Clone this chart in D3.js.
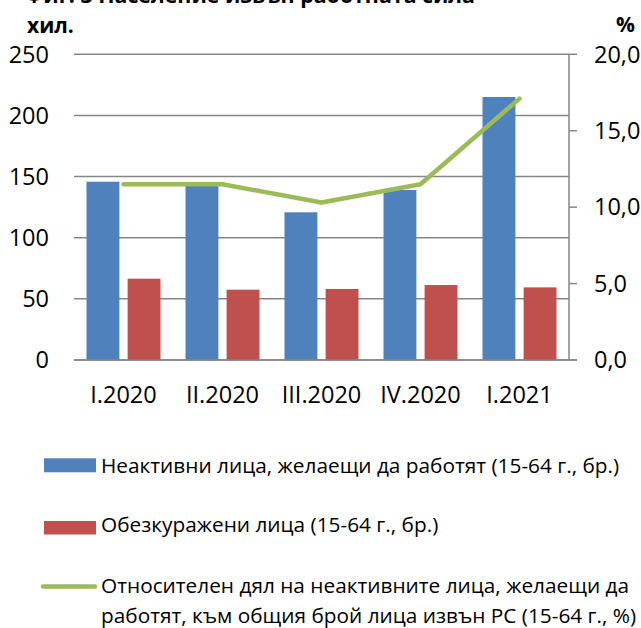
<!DOCTYPE html>
<html>
<head>
<meta charset="utf-8">
<script src="https://cdn.jsdelivr.net/npm/d3@7"></script>
<style>
  html, body { margin: 0; padding: 0; background: #fff; }
  svg text { font-family: "Open Sans", "Noto Sans", sans-serif; fill: #000; }
</style>
</head>
<body>
<div id="chart"></div>
<script>
// values
var categories = ["I.2020", "II.2020", "III.2020", "IV.2020", "I.2021"];
var inactive = [145.8, 142.3, 120.8, 139.0, 215.1];      // хил.
var discouraged = [66.5, 57.5, 58.1, 61.3, 59.4];        // хил.
var shareInactive = [11.5, 11.5, 10.3, 11.5, 17.1];      // %
var leftTicks = [0, 50, 100, 150, 200, 250];
var rightTicks = [0, 5, 10, 15, 20];

var legendLabels = [
  "Неактивни лица, желаещи да работят (15-64 г., бр.)",
  "Обезкуражени лица (15-64 г., бр.)",
  ["Относителен дял на неактивните лица, желаещи да", "работят, към общия брой лица извън РС (15-64 г., %)"]
];

var W = 641, H = 628;
var plot = { left: 74, right: 569, top: 54.3, bottom: 360 };
var colors = { blue: "#4F81BD", red: "#C0504D", green: "#9BBB59", grid: "#868686" };

var svg = d3.select("#chart").append("svg").attr("width", W).attr("height", H);

// scales
var x0 = d3.scaleBand().domain(categories).range([plot.left, plot.right]);
var x1 = d3.scaleBand().domain(["inactive", "discouraged"])
  .range([12.5, x0.bandwidth() - 12.5]).paddingInner(0.2);
var yL = d3.scaleLinear().domain([0, 250]).range([plot.bottom, plot.top]);
var yR = d3.scaleLinear().domain([0, 20]).range([plot.bottom, plot.top]);

// title (cut off at the top edge, as in the original)
svg.append("text")
  .attr("x", 25).attr("y", 3)
  .attr("font-weight", "bold").attr("font-size", 22)
  .attr("textLength", 450).attr("lengthAdjust", "spacingAndGlyphs")
  .text("Фиг. 3 Население извън работната сила");

svg.append("text").attr("x", 27).attr("y", 33)
  .attr("font-weight", "bold").attr("font-size", 21).text("хил.");
svg.append("text").attr("x", 616).attr("y", 32)
  .attr("font-weight", "bold").attr("font-size", 21).text("%");

// gridlines
svg.append("g").selectAll("line").data(leftTicks).enter().append("line")
  .attr("x1", plot.left).attr("x2", plot.right)
  .attr("y1", function (d) { return yL(d); }).attr("y2", function (d) { return yL(d); })
  .attr("stroke", colors.grid).attr("stroke-width", 1.5);

// left axis labels
svg.append("g").selectAll("text").data(leftTicks).enter().append("text")
  .attr("x", 49).attr("y", function (d) { return yL(d); })
  .attr("dy", "0.35em").attr("text-anchor", "end").attr("font-size", 23.5)
  .text(function (d) { return d; });

// bars
var groups = svg.append("g").selectAll("g").data(categories).enter().append("g")
  .attr("transform", function (d) { return "translate(" + x0(d) + ",0)"; });

groups.append("rect")
  .attr("x", x1("inactive")).attr("width", x1.bandwidth())
  .attr("y", function (d, i) { return yL(inactive[i]); })
  .attr("height", function (d, i) { return yL(0) - yL(inactive[i]); })
  .attr("fill", colors.blue);

groups.append("rect")
  .attr("x", x1("discouraged")).attr("width", x1.bandwidth())
  .attr("y", function (d, i) { return yL(discouraged[i]); })
  .attr("height", function (d, i) { return yL(0) - yL(discouraged[i]); })
  .attr("fill", colors.red);

// baseline redrawn over bar bottoms
svg.append("line")
  .attr("x1", plot.left).attr("x2", plot.right + 8)
  .attr("y1", yL(0)).attr("y2", yL(0))
  .attr("stroke", colors.grid).attr("stroke-width", 1.5);

// right axis
var rightAxis = svg.append("g");
rightAxis.append("line")
  .attr("x1", plot.right).attr("x2", plot.right)
  .attr("y1", plot.top).attr("y2", plot.bottom)
  .attr("stroke", colors.grid).attr("stroke-width", 1.5);
rightAxis.selectAll("line.tick").data(rightTicks).enter().append("line")
  .attr("class", "tick")
  .attr("x1", plot.right).attr("x2", plot.right + 8)
  .attr("y1", function (d) { return yR(d); }).attr("y2", function (d) { return yR(d); })
  .attr("stroke", colors.grid).attr("stroke-width", 1.5);
rightAxis.selectAll("text").data(rightTicks).enter().append("text")
  .attr("x", 594).attr("y", function (d) { return yR(d); })
  .attr("dy", "0.35em").attr("font-size", 23.5)
  .text(function (d) { return d3.format(".1f")(d).replace(".", ","); });

// x labels
svg.append("g").selectAll("text").data(categories).enter().append("text")
  .attr("x", function (d) { return x0(d) + x0.bandwidth() / 2; })
  .attr("y", 403).attr("text-anchor", "middle").attr("font-size", 23.5)
  .text(function (d) { return d; });

// share line
var line = d3.line()
  .x(function (d, i) { return x0(categories[i]) + x0.bandwidth() / 2; })
  .y(function (d) { return yR(d); });
svg.append("path").datum(shareInactive)
  .attr("d", line).attr("fill", "none")
  .attr("stroke", colors.green).attr("stroke-width", 4.5)
  .attr("stroke-linecap", "round").attr("stroke-linejoin", "round");

// legend
var lg = svg.append("g");
var legendSize = 20.8;
lg.append("rect").attr("x", 44).attr("y", 458.3).attr("width", 52).attr("height", 14).attr("fill", colors.blue);
lg.append("text").attr("x", 101).attr("y", 472.5).attr("font-size", legendSize).text(legendLabels[0]);
lg.append("rect").attr("x", 44).attr("y", 521).attr("width", 52).attr("height", 13.5).attr("fill", colors.red);
lg.append("text").attr("x", 101).attr("y", 532).attr("font-size", legendSize).text(legendLabels[1]);
lg.append("line").attr("x1", 43).attr("x2", 95).attr("y1", 586.5).attr("y2", 586.5)
  .attr("stroke", colors.green).attr("stroke-width", 4.5).attr("stroke-linecap", "round");
lg.append("text").attr("x", 101).attr("y", 593).attr("font-size", legendSize).text(legendLabels[2][0]);
lg.append("text").attr("x", 101).attr("y", 623).attr("font-size", legendSize).text(legendLabels[2][1]);
</script>
</body>
</html>
